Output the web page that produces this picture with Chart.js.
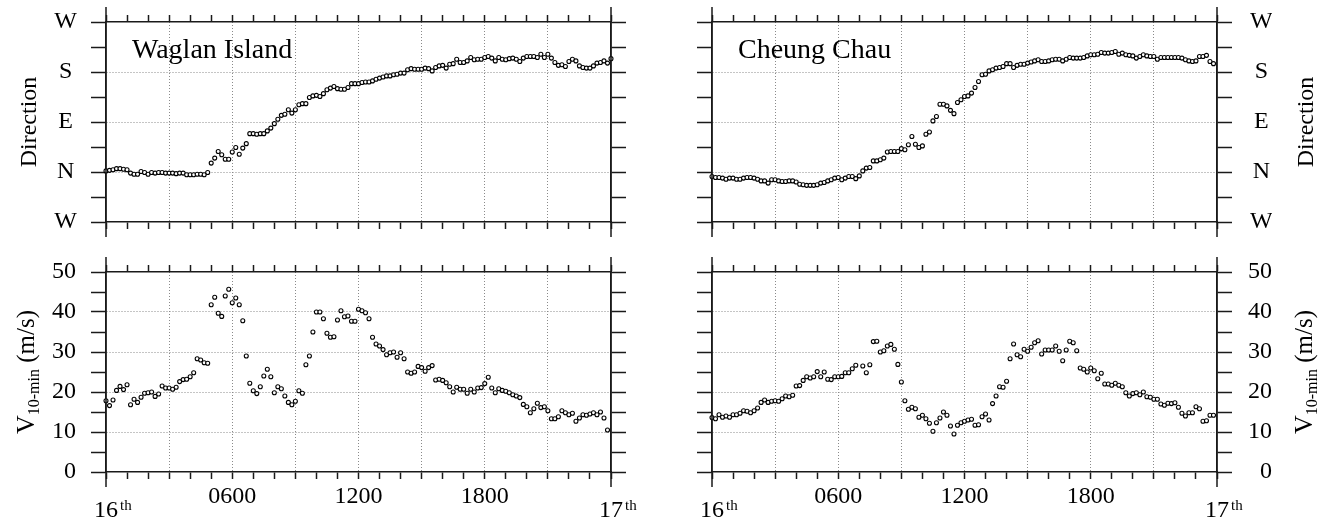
<!DOCTYPE html>
<html>
<head>
<meta charset="utf-8">
<script src="https://cdn.jsdelivr.net/npm/chart.js@4.4.1/dist/chart.umd.min.js"></script>
<style>
  html, body { margin: 0; padding: 0; background: #fff; }
  #wrap { position: relative; width: 1329px; height: 527px; }
  canvas { position: absolute; }
</style>
</head>
<body>
<div id="wrap">
  <canvas id="dirW" width="660" height="250" style="left:0;top:0"></canvas>
  <canvas id="spdW" width="660" height="277" style="left:0;top:250px"></canvas>
  <canvas id="dirC" width="669" height="250" style="left:660px;top:0"></canvas>
  <canvas id="spdC" width="669" height="277" style="left:660px;top:250px"></canvas>
</div>
<script>
// 10-minute records, 16th 0000 to 17th 0000
const SAMPLE_MIN = 10;
const stations = ['Waglan Island', 'Cheung Chau'];
const dirLabels = { '-90': 'W', '0': 'N', '90': 'E', '180': 'S', '270': 'W' };
const hourLabels = { 6: '0600', 12: '1200', 18: '1800' };
const dayLabels = ['16', '17'];

// wind direction, degrees (N = 0, E = 90 ...)
const waglanDir = [
  2, 3, 4, 6, 6, 5, 4, -2, -4, -4,
  1, -1, -4, -1, -2, -1, -1, -2, -2, -2,
  -3, -2, -2, -5, -5, -5, -4, -4, -5, -1,
  16, 25, 37, 31, 23, 23, 36, 44, 32, 43,
  51, 69, 69, 68, 69, 69, 74, 79, 87, 95,
  102, 104, 112, 106, 112, 121, 123, 123, 134, 137,
  138, 136, 141, 148, 151, 154, 150, 149, 149, 152,
  159, 159, 159, 161, 162, 162, 164, 167, 169, 171,
  173, 173, 175, 176, 178, 178, 184, 186, 185, 185,
  185, 187, 186, 182, 188, 191, 192, 187, 194, 195,
  203, 197, 197, 200, 206, 202, 203, 203, 206, 208,
  205, 200, 206, 203, 202, 204, 205, 203, 199, 205,
  208, 208, 208, 206, 212, 206, 212, 205, 197, 192,
  193, 190, 199, 203, 200, 191, 188, 187, 187, 191,
  196, 197, 200, 196, 204
];
const cheungDir = [
  -8, -10, -10, -11, -13, -11, -11, -13, -13, -11,
  -10, -10, -11, -13, -16, -16, -20, -14, -14, -16,
  -17, -17, -16, -16, -18, -22, -23, -24, -24, -24,
  -23, -20, -19, -16, -14, -11, -10, -14, -11, -8,
  -8, -12, -7, 2, 7, 8, 20, 20, 22, 25,
  36, 37, 37, 37, 42, 40, 49, 64, 50, 44,
  47, 68, 72, 92, 100, 122, 122, 119, 111, 105,
  125, 130, 136, 137, 142, 152, 163, 175, 176, 182,
  184, 187, 188, 190, 195, 195, 188, 192, 194, 194,
  196, 198, 200, 202, 199, 199, 200, 202, 203, 203,
  200, 203, 206, 205, 205, 205, 206, 209, 211, 211,
  212, 215, 214, 214, 215, 217, 212, 214, 211, 210,
  209, 205, 208, 211, 209, 208, 208, 203, 206, 206,
  206, 206, 206, 206, 205, 202, 200, 199, 200, 208,
  208, 210, 199, 195
];

// 10-min mean wind speed, m/s
const waglanSpd = [
  17.8, 16.6, 18.0, 20.4, 21.4, 20.6, 21.8, 16.8, 18.2, 17.4,
  18.7, 19.7, 19.8, 20.0, 18.9, 19.5, 21.5, 21.0, 21.0, 20.7,
  21.2, 22.6, 23.1, 23.2, 23.8, 24.8, 28.3, 28.0, 27.3, 27.2,
  41.8, 43.7, 39.7, 38.9, 44.0, 45.7, 42.3, 43.5, 41.8, 37.8,
  29.0, 22.2, 20.3, 19.6, 21.3, 24.0, 25.7, 23.8, 19.8, 21.3,
  20.8, 19.0, 17.4, 16.8, 17.7, 20.3, 19.7, 26.8, 29.0, 35.0,
  40.0, 40.0, 38.3, 34.7, 33.7, 33.8, 38.0, 40.3, 38.8, 39.0,
  37.7, 37.7, 40.7, 40.3, 39.8, 38.3, 33.7, 32.0, 31.5, 30.6,
  29.3, 29.8, 30.0, 28.7, 29.8, 28.3, 25.0, 24.7, 25.0, 26.4,
  26.1, 25.2, 26.1, 26.6, 23.0, 23.2, 22.9, 22.3, 21.3, 20.0,
  21.2, 20.7, 20.7, 19.7, 20.7, 20.0, 21.0, 21.1, 22.1, 23.7,
  21.0, 19.8, 20.8, 20.4, 20.2, 19.8, 19.3, 19.0, 18.6, 16.9,
  16.3, 14.8, 15.8, 17.2, 16.1, 16.3, 15.3, 13.3, 13.3, 13.8,
  15.3, 14.8, 14.3, 14.7, 12.7, 13.5, 14.3, 14.2, 14.5, 14.8,
  14.3, 15.0, 13.5, 10.5
];
const cheungSpd = [
  13.6, 13.3, 14.3, 13.7, 14.0, 13.7, 14.3, 14.3, 14.7, 15.3,
  15.2, 14.8, 15.3, 16.0, 17.4, 18.0, 17.4, 17.7, 17.8, 17.7,
  18.3, 19.0, 18.8, 19.2, 21.5, 21.6, 22.9, 23.8, 23.5, 23.8,
  25.1, 23.8, 25.0, 23.2, 23.1, 23.8, 23.8, 23.9, 24.8, 24.8,
  25.8, 26.7, null, 26.5, 24.8, 26.8, 32.6, 32.7, 30.0, 30.3,
  31.5, 31.9, 30.7, 26.9, 22.5, 17.8, 15.7, 16.2, 15.8, 13.7,
  14.2, 13.3, 12.2, 10.2, 12.3, 13.5, 15.0, 14.2, 11.5, 9.5,
  11.7, 12.3, 12.7, 13.0, 13.2, 11.7, 11.8, 13.8, 14.5, 13.0,
  17.1, 19.0, 21.3, 21.2, 22.7, 28.3, 32.0, 29.3, 28.8, 30.7,
  30.2, 31.2, 32.3, 32.8, 29.5, 30.5, 30.5, 30.5, 31.5, 30.2,
  27.8, 30.5, 32.7, 32.3, 30.3, 26.0, 25.7, 25.0, 26.0, 25.3,
  23.3, 24.7, 22.0, 22.0, 21.7, 22.2, 21.7, 21.3, 19.8, 19.0,
  19.6, 19.8, 19.3, 20.0, 18.8, 18.7, 18.2, 18.2, 17.0, 16.7,
  17.2, 17.1, 17.3, 16.2, 14.7, 14.0, 14.8, 14.8, 16.3, 15.8,
  12.7, 12.8, 14.2, 14.2
];

Chart.defaults.font.family = '"Liberation Serif", "Times New Roman", serif';
Chart.defaults.font.size = 24;
Chart.defaults.color = '#000';

const INK = '#1a1a1a';
const SERIF = '"Liberation Serif", "Times New Roman", serif';

function toPoints(vals) {
  return vals.map((v, i) => ({ x: i * SAMPLE_MIN / 60, y: v }));
}

function xScale(pos, showLabels, h) {
  return {
    type: 'linear', axis: 'x', position: pos, min: 0, max: 24,
    afterFit: s => { s.height = h; s.paddingLeft = 0; s.paddingRight = 0; },
    ticks: {
      stepSize: 1, autoSkip: false, maxRotation: 0, display: showLabels, padding: 3,
      callback: v => hourLabels[v] || ''
    },
    grid: {
      drawOnChartArea: pos === 'bottom',
      color: c => (c.tick && c.tick.value % 3 === 0 && c.tick.value > 0 && c.tick.value < 24) ? '#8a8a8a' : 'rgba(0,0,0,0)',
      lineWidth: 1, tickLength: 7, tickColor: INK, tickWidth: 1.5
    },
    border: { color: INK, width: 1.5, dash: [1, 2] }
  };
}

function yScale(pos, kind, showLabels, w, pad, align) {
  const dir = kind === 'dir';
  return {
    type: 'linear', axis: 'y', position: pos,
    min: dir ? -90 : 0, max: dir ? 270 : 50,
    afterFit: s => { s.width = w; s.paddingTop = 0; s.paddingBottom = 0; },
    ticks: {
      stepSize: dir ? 45 : 5, autoSkip: false, display: showLabels, padding: pad, crossAlign: align,
      callback: v => dir ? (dirLabels[v] || '') : (v % 10 === 0 ? String(v) : '')
    },
    grid: {
      drawOnChartArea: pos === 'left',
      color: c => {
        const v = c.tick ? c.tick.value : NaN;
        const on = dir ? (v === 0 || v === 90 || v === 180) : (v % 10 === 0 && v > 0 && v < 50);
        return on ? '#8a8a8a' : 'rgba(0,0,0,0)';
      },
      lineWidth: 1, tickLength: 15, tickColor: INK, tickWidth: 1.5
    },
    border: { color: INK, width: 1.5, dash: [1, 2] }
  };
}

function decor(cfg) {
  return {
    id: 'decor',
    afterDraw(chart) {
      const ctx = chart.ctx, a = chart.chartArea;
      ctx.save();
      // long marks at the day boundaries
      ctx.strokeStyle = INK;
      ctx.lineWidth = 1.5;
      ctx.beginPath();
      [a.left, a.right].forEach(x => { ctx.moveTo(x, a.top - 15); ctx.lineTo(x, a.bottom + 15); });
      ctx.stroke();

      ctx.fillStyle = '#000';
      ctx.textBaseline = 'alphabetic';
      if (cfg.station) {
        ctx.font = '28px ' + SERIF;
        ctx.textAlign = 'left';
        ctx.fillText(cfg.station, a.left + 26, a.top + 36);
      }

      if (cfg.bottom) {
        [a.left, a.right].forEach((x, i) => {
          ctx.font = '24px ' + SERIF;
          ctx.textAlign = 'center';
          ctx.fillText(dayLabels[i], x, a.bottom + 45);
          const w = ctx.measureText(dayLabels[i]).width;
          ctx.font = '15px ' + SERIF;
          ctx.textAlign = 'left';
          ctx.fillText('th', x + w / 2 + 2, a.bottom + 38);
        });
      }

      // axis title, rotated, reading upward
      ctx.translate(cfg.titleX, (a.top + a.bottom) / 2);
      ctx.rotate(-Math.PI / 2);
      if (cfg.kind === 'dir') {
        ctx.font = '24px ' + SERIF;
        ctx.textAlign = 'center';
        ctx.fillText('Direction', 0, 0);
      } else {
        const parts = [['V', 26, 0], ['10-min', 16, 5], [' (m/s)', 25, 0]];
        let total = 0;
        parts.forEach(p => { ctx.font = p[1] + 'px ' + SERIF; total += ctx.measureText(p[0]).width; });
        let x = -total / 2;
        ctx.textAlign = 'left';
        parts.forEach(p => {
          ctx.font = p[1] + 'px ' + SERIF;
          ctx.fillText(p[0], x, p[2]);
          x += ctx.measureText(p[0]).width;
        });
      }
      ctx.restore();
    }
  };
}

function makePanel(id, vals, cfg) {
  const left = cfg.side === 'left';
  const dir = cfg.kind === 'dir';
  const scales = {
    x: xScale('bottom', cfg.bottom, cfg.bottom ? 55 : 28),
    x2: xScale('top', false, 22),
    y: yScale('left', cfg.kind, left, left ? 106 : 52, dir ? 14 : 15, dir ? 'center' : 'near'),
    y2: yScale('right', cfg.kind, !left, left ? 49 : 55, dir ? 18 : 15, dir ? 'center' : 'far')
  };
  new Chart(document.getElementById(id), {
    type: 'scatter',
    data: {
      datasets: [{
        data: toPoints(vals),
        showLine: false,
        pointRadius: 2,
        pointBorderWidth: 1.1,
        pointBorderColor: '#000',
        pointBackgroundColor: '#fff',
        clip: false
      }]
    },
    options: {
      responsive: false,
      animation: false,
      layout: { autoPadding: false, padding: { left: 0, top: 0, bottom: 0, right: left ? 0 : 57 } },
      scales: scales,
      plugins: { legend: { display: false }, tooltip: { enabled: false } },
      events: []
    },
    plugins: [decor(cfg)]
  });
}

makePanel('dirW', waglanDir, { kind: 'dir', side: 'left', station: stations[0], bottom: false, titleX: 36 });
makePanel('spdW', waglanSpd, { kind: 'spd', side: 'left', bottom: true, titleX: 34 });
makePanel('dirC', cheungDir, { kind: 'dir', side: 'right', station: stations[1], bottom: false, titleX: 653 });
makePanel('spdC', cheungSpd, { kind: 'spd', side: 'right', bottom: true, titleX: 652 });
</script>
</body>
</html>
